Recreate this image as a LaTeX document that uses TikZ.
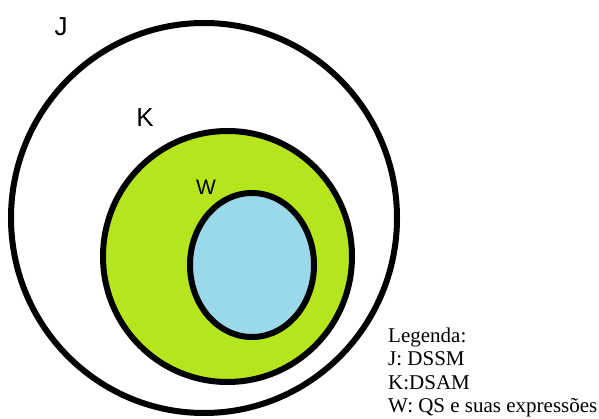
\documentclass[tikz,border=0pt]{standalone}
\usepackage{fontspec}
\setmainfont{Liberation Serif}
\newfontfamily\labelfont{Liberation Sans}
\definecolor{limefill}{HTML}{B5E61D}
\definecolor{bluefill}{HTML}{99D9EA}
\begin{document}
\begin{tikzpicture}[x=1pt,y=-1pt,
  ring/.style={draw=black,line width=6pt},
  setlabel/.style={font=\labelfont\fontsize{26}{30}\selectfont,inner sep=0pt},
  legendline/.style={font=\fontsize{21}{24}\selectfont,anchor=base west,inner sep=0pt}]
\useasboundingbox (0,0) rectangle (599,419);
\draw[ring,fill=white] (204,218) ellipse [x radius=193,y radius=195];
\draw[ring,fill=limefill] (227.5,256.5) ellipse [x radius=124.5,y radius=125.5];
\draw[ring,fill=bluefill] (252,265) ellipse [x radius=62,y radius=72];
\node[setlabel] (lJ) at (61,27) {J};
\node[setlabel] (lK) at (145,118) {K};
\node[setlabel,font=\labelfont\fontsize{21}{25}\selectfont] (lW) at (206,187) {W};
\node[legendline] (g0) at (388,342) {Legenda:};
\node[legendline] (g1) at (388,365.5) {J: DSSM};
\node[legendline] (g2) at (388,389) {K:DSAM};
\node[legendline] (g3) at (388,412.5) {W: QS e suas expressões};
\end{tikzpicture}
\end{document}
